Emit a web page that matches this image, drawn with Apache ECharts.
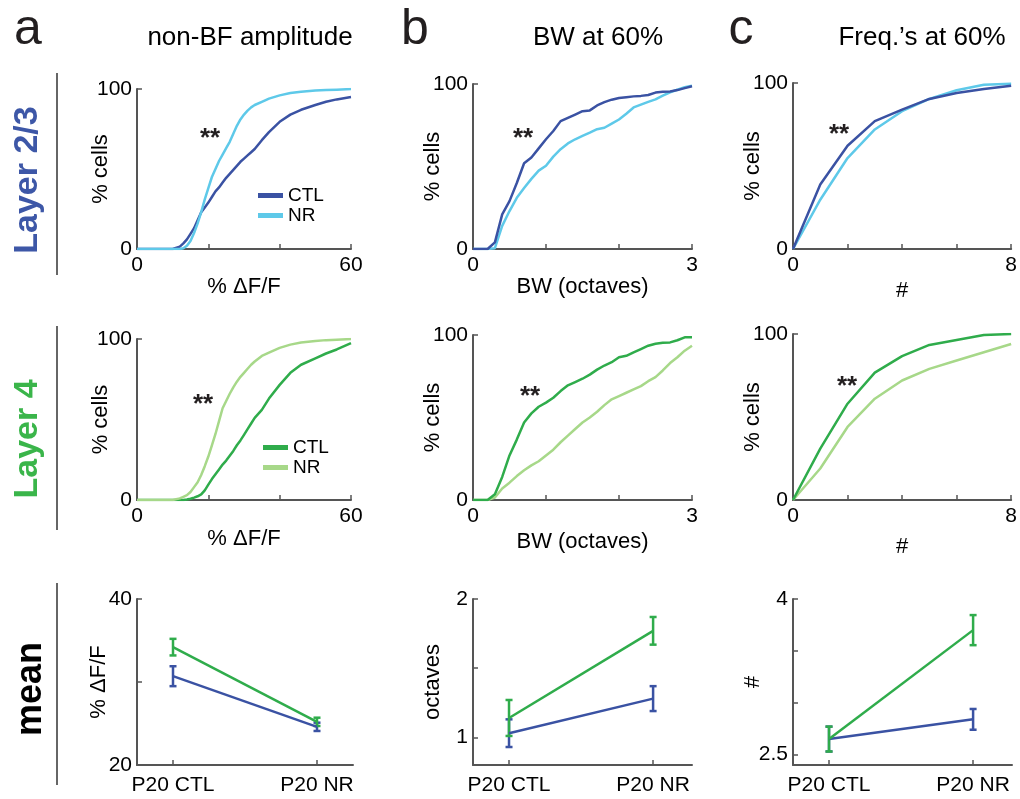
<!DOCTYPE html>
<html>
<head>
<meta charset="utf-8">
<script src="https://cdn.jsdelivr.net/npm/echarts@6/dist/echarts.min.js"></script>
<style>
html, body { margin: 0; padding: 0; background: #fff; }
#main { width: 1020px; height: 799px; }
</style>
</head>
<body>
<div id="main"></div>
<script>
// ---- data ----
// column a: non-BF amplitude (% dF/F) cumulative
var ampX      = [0, 10, 12, 13, 14, 15, 16, 17, 18, 19, 20, 21, 22, 23, 24, 25, 26, 27, 28, 29, 30, 31, 32, 33, 35, 37, 40, 43, 46, 50, 53, 56, 60];
var ampL23Ctl = [0, 0, 1.5, 3.5, 6, 9.5, 13, 18, 23, 26, 29, 32.5, 36, 38.5, 41.5, 44.5, 47, 49.5, 52, 54.5, 56.5, 58.5, 60.5, 62.5, 68, 73, 79.5, 84, 87, 90, 92, 93.5, 95];
var ampL23Nr  = [0, 0, 0, 0.5, 2, 5, 10, 16, 23, 31, 38, 45, 50, 55, 59, 63, 67, 72, 77, 81, 84, 86.5, 88.5, 90, 92, 94, 96, 97.5, 98.3, 99, 99.3, 99.6, 100];
var ampL4Ctl  = [0, 0, 0, 0, 0.3, 0.8, 1.5, 2.3, 3.5, 6, 9.5, 13, 16, 19, 22, 24.5, 27.5, 30.5, 34, 37, 40.5, 44, 47.5, 51, 56, 63, 71.5, 79, 84, 88, 91, 93.5, 97.5];
var ampL4Nr   = [0, 0, 1, 2, 3, 5, 8, 11, 15.5, 21, 27, 34, 41, 49, 57, 61.5, 66, 70, 73.5, 76.5, 79, 81.5, 84, 86, 89.5, 91.5, 94.5, 96.5, 97.8, 98.8, 99.3, 99.6, 100];

// column b: bandwidth at 60% (octaves) cumulative
var bwX      = [0, 0.2, 0.3, 0.4, 0.5, 0.6, 0.7, 0.8, 0.9, 1.0, 1.1, 1.2, 1.3, 1.4, 1.5, 1.6, 1.7, 1.8, 1.9, 2.0, 2.1, 2.2, 2.3, 2.4, 2.5, 2.6, 2.7, 2.8, 2.9, 3.0];
var bwL23Ctl = [0, 0, 4, 21, 29, 40, 52, 55.5, 61, 66.5, 71.5, 77.5, 79.5, 81.5, 83.5, 84, 87, 89, 90.5, 91.5, 92, 92.5, 92.8, 93.3, 94.8, 95.3, 95.5, 96.3, 97.5, 98.6];
var bwL23Nr  = [0, 0, 0.5, 14, 23, 31, 37, 42.5, 47.5, 50.5, 56, 60.5, 64, 66.5, 68.5, 70.5, 72.6, 73.5, 76, 78.5, 82, 85.8, 87.5, 89.2, 90.7, 93, 95, 96.5, 98, 99];
var bwL4Ctl  = [0, 0, 3.5, 14, 27, 36.6, 47, 52.5, 56.5, 59, 62, 66, 69.5, 71.5, 73.5, 76, 79, 81.5, 83.5, 86.5, 87.4, 89.5, 91.5, 93.5, 94.7, 95.3, 95.5, 96.8, 98.6, 98.6];
var bwL4Nr   = [0, 0, 1.5, 7, 10.5, 14.5, 18, 21, 23.5, 27, 30.5, 35, 39, 43, 47, 50, 53.5, 57.5, 61, 63, 65, 67, 69, 72, 74.5, 78.5, 83, 86.5, 90.5, 93.5];

// column c: number of frequencies at 60% cumulative
var freqX      = [0, 1, 2, 3, 4, 5, 6, 7, 8];
var freqL23Ctl = [0, 38.8, 62.2, 77, 84, 90.4, 94, 96.4, 98.4];
var freqL23Nr  = [0, 29.7, 54.8, 72, 83, 90.4, 95.6, 99, 99.6];
var freqL4Ctl  = [0, 31, 58, 76.7, 86.7, 93.4, 96.4, 99.4, 100];
var freqL4Nr   = [0, 19, 44, 61, 72, 79, 84, 89, 94];

// bottom row: means +/- error
var groups      = ['P20 CTL', 'P20 NR'];
var ampMeanL23  = [30.7, 24.6];
var ampErrL23   = [1.2, 0.5];
var ampMeanL4   = [34.2, 25.2];
var ampErrL4    = [1.0, 0.5];
var bwMeanL23   = [1.03, 1.28];
var bwErrL23    = [0.1, 0.09];
var bwMeanL4    = [1.14, 1.77];
var bwErrL4     = [0.13, 0.1];
var freqMeanL23 = [2.65, 2.84];
var freqErrL23  = [0.12, 0.1];
var freqMeanL4  = [2.65, 3.70];
var freqErrL4   = [0.12, 0.145];

// ---- style ----
var FONT = "'Liberation Sans', Helvetica, Arial, sans-serif";
var AXIS_COLOR = '#555555';
var C_BLUE = '#3a52a3';
var C_CYAN = '#5ec9e9';
var C_GREEN = '#2fac4b';
var C_LGREEN = '#a7d889';

function pairs(xs, ys) {
	return xs.map(function(x, i){ return [x, ys[i]]; });
}
function errRows(means, errs) {
	return means.map(function(m, i){ return [i, m - errs[i], m + errs[i]]; });
}

function axis(gi, min, max, ticks, labels, opts) {
	opts = opts || {};
	return {
		type: 'value',
		gridIndex: gi,
		min: min,
		max: max,
		name: opts.name || '',
		nameLocation: 'middle',
		nameGap: opts.nameGap || 25,
		nameMoveOverlap: false,
		nameTextStyle: { fontFamily: FONT, fontSize: 22, color: '#000' },
		axisLine: { show: true, onZero: false, lineStyle: { color: AXIS_COLOR, width: 2 } },
		axisTick: { show: true, inside: true, length: 5, customValues: ticks, lineStyle: { color: AXIS_COLOR, width: 1.5 } },
		axisLabel: {
			customValues: labels,
			fontFamily: FONT, fontSize: 21, color: '#000',
			margin: opts.margin || 5,
			formatter: opts.formatter
		},
		splitLine: { show: false }
	};
}

function cdf(name, gi, xs, ys, color) {
	return {
		name: name, type: 'line', xAxisIndex: gi, yAxisIndex: gi,
		data: pairs(xs, ys), showSymbol: false, symbol: 'none',
		lineStyle: { color: color, width: 2.5 }, itemStyle: { color: color }
	};
}

function renderErrorBar(params, api) {
	var hi = api.coord([api.value(0), api.value(2)]);
	var lo = api.coord([api.value(0), api.value(1)]);
	var cap = 3.5;
	var color = api.visual('color');
	function seg(x1, y1, x2, y2) {
		return { type: 'line', shape: { x1: x1, y1: y1, x2: x2, y2: y2 }, style: { stroke: color, lineWidth: 2.5 } };
	}
	return {
		type: 'group',
		children: [
			seg(hi[0], hi[1], lo[0], lo[1]),
			seg(hi[0] - cap, hi[1], hi[0] + cap, hi[1]),
			seg(lo[0] - cap, lo[1], lo[0] + cap, lo[1])
		]
	};
}

function meanSeries(name, gi, means, errs, color) {
	return [{
		name: name, type: 'line', xAxisIndex: gi, yAxisIndex: gi,
		data: means.map(function(m, i){ return [i, m]; }),
		showSymbol: false, symbol: 'none',
		lineStyle: { color: color, width: 2.5 }, itemStyle: { color: color }
	}, {
		name: name, type: 'custom', xAxisIndex: gi, yAxisIndex: gi,
		renderItem: renderErrorBar,
		encode: { x: 0, y: [1, 2] },
		data: errRows(means, errs),
		itemStyle: { color: color }, z: 3
	}];
}

var groupLabel = function(v){ return groups[Math.round(v)]; };

var grids = [
	{ left: 137, top: 89,  width: 214, height: 160 },
	{ left: 473, top: 84,  width: 219, height: 165 },
	{ left: 793, top: 83,  width: 219, height: 166 },
	{ left: 137, top: 339, width: 214, height: 161 },
	{ left: 473, top: 335, width: 219, height: 165 },
	{ left: 793, top: 334, width: 219, height: 166 },
	{ left: 137, top: 599, width: 216, height: 166 },
	{ left: 473, top: 599, width: 219, height: 166 },
	{ left: 793, top: 599, width: 219, height: 166 }
];

var xAxes = [
	axis(0, 0, 60, [0, 20, 40, 60], [0, 60], { name: '% \u0394F/F', nameGap: 27, margin: 6 }),
	axis(1, 0, 3, [0, 1, 2, 3], [0, 3], { name: 'BW (octaves)', nameGap: 27, margin: 6 }),
	axis(2, 0, 8, [0, 2, 4, 6, 8], [0, 8], { name: '#', nameGap: 31, margin: 6 }),
	axis(3, 0, 60, [0, 20, 40, 60], [0, 60], { name: '% \u0394F/F', nameGap: 28, margin: 6 }),
	axis(4, 0, 3, [0, 1, 2, 3], [0, 3], { name: 'BW (octaves)', nameGap: 31, margin: 6 }),
	axis(5, 0, 8, [0, 2, 4, 6, 8], [0, 8], { name: '#', nameGap: 36, margin: 6 }),
	axis(6, -0.25, 1.25, [0, 1], [0, 1], { margin: 10, formatter: groupLabel }),
	axis(7, -0.25, 1.27, [0, 1], [0, 1], { margin: 10, formatter: groupLabel }),
	axis(8, -0.25, 1.27, [0, 1], [0, 1], { margin: 10, formatter: groupLabel })
];

var yAxes = [
	axis(0, 0, 100, [0, 100], [0, 100], { name: '% cells', nameGap: 25 }),
	axis(1, 0, 100, [0, 100], [0, 100], { name: '% cells', nameGap: 29 }),
	axis(2, 0, 100, [0, 100], [0, 100], { name: '% cells', nameGap: 29 }),
	axis(3, 0, 100, [0, 100], [0, 100], { name: '% cells', nameGap: 25 }),
	axis(4, 0, 100, [0, 100], [0, 100], { name: '% cells', nameGap: 29 }),
	axis(5, 0, 100, [0, 100], [0, 100], { name: '% cells', nameGap: 29 }),
	axis(6, 20, 40, [20, 30, 40], [20, 40], { name: '% \u0394F/F', nameGap: 27 }),
	axis(7, 0.8, 2, [1, 1.5, 2], [1, 2], { name: 'octaves', nameGap: 29 }),
	axis(8, 2.4, 4, [2.5, 3, 3.5, 4], [2.5, 4], { name: '#', nameGap: 29 })
];

var series = [
	cdf('L23 CTL', 0, ampX, ampL23Ctl, C_BLUE),
	cdf('L23 NR', 0, ampX, ampL23Nr, C_CYAN),
	cdf('L23 CTL', 1, bwX, bwL23Nr, C_CYAN),
	cdf('L23 CTL', 1, bwX, bwL23Ctl, C_BLUE),
	cdf('L23 NR', 2, freqX, freqL23Nr, C_CYAN),
	cdf('L23 CTL', 2, freqX, freqL23Ctl, C_BLUE),
	cdf('L4 CTL', 3, ampX, ampL4Ctl, C_GREEN),
	cdf('L4 NR', 3, ampX, ampL4Nr, C_LGREEN),
	cdf('L4 NR', 4, bwX, bwL4Nr, C_LGREEN),
	cdf('L4 CTL', 4, bwX, bwL4Ctl, C_GREEN),
	cdf('L4 NR', 5, freqX, freqL4Nr, C_LGREEN),
	cdf('L4 CTL', 5, freqX, freqL4Ctl, C_GREEN)
]
	.concat(meanSeries('L23 mean', 6, ampMeanL23, ampErrL23, C_BLUE))
	.concat(meanSeries('L4 mean', 6, ampMeanL4, ampErrL4, C_GREEN))
	.concat(meanSeries('L23 mean', 7, bwMeanL23, bwErrL23, C_BLUE))
	.concat(meanSeries('L4 mean', 7, bwMeanL4, bwErrL4, C_GREEN))
	.concat(meanSeries('L23 mean', 8, freqMeanL23, freqErrL23, C_BLUE))
	.concat(meanSeries('L4 mean', 8, freqMeanL4, freqErrL4, C_GREEN));

function legendFor(names, left, top) {
	return {
		data: names, left: left, top: top, orient: 'vertical',
		icon: 'rect', itemWidth: 25, itemHeight: 5, itemGap: 1, padding: 0,
		selectedMode: false,
		formatter: function(n){ return n.split(' ')[1]; },
		textStyle: { fontFamily: FONT, fontSize: 19, color: '#000' }
	};
}

function txt(text, x, y, size, color, bold, rotate) {
	return {
		type: 'text', x: x, y: y, rotation: rotate ? Math.PI / 2 : 0,
		style: {
			text: text, fontFamily: FONT, fontSize: size,
			fontWeight: bold ? 'bold' : 'normal', fill: color,
			align: 'center', verticalAlign: 'middle'
		}
	};
}
function vline(x, y1, y2) {
	return { type: 'line', shape: { x1: x, y1: y1, x2: x, y2: y2 }, style: { stroke: '#333', lineWidth: 1.5 } };
}

var titleStyle = { fontFamily: FONT, fontSize: 26, fontWeight: 'normal', color: '#000' };

var chart = echarts.init(document.getElementById('main'));
chart.setOption({
	animation: false,
	backgroundColor: '#fff',
	title: [
		{ text: 'non-BF amplitude', left: 245, top: 20, textAlign: 'center', textStyle: titleStyle },
		{ text: 'BW at 60%', left: 593, top: 20, textAlign: 'center', textStyle: titleStyle },
		{ text: 'Freq.\u2019s at 60%', left: 917, top: 20, textAlign: 'center', textStyle: titleStyle }
	],
	legend: [
		legendFor(['L23 CTL', 'L23 NR'], 258, 186),
		legendFor(['L4 CTL', 'L4 NR'], 263, 438)
	],
	grid: grids,
	xAxis: xAxes,
	yAxis: yAxes,
	series: series,
	graphic: [
		txt('a', 28, 30, 50, '#231f20', false, false),
		txt('b', 415, 30, 50, '#231f20', false, false),
		txt('c', 741, 30, 50, '#231f20', false, false),
		txt('Layer 2/3', 28, 180, 34, '#3d57a7', true, true),
		txt('Layer 4', 28, 439, 34, '#3ab54a', true, true),
		txt('mean', 31, 689, 36, '#000', true, true),
		vline(57, 73, 275),
		vline(57, 326, 530),
		vline(57, 583, 785),
		txt('**', 210, 139, 26, '#231f20', true, false),
		txt('**', 523, 139, 26, '#231f20', true, false),
		txt('**', 839, 135, 26, '#231f20', true, false),
		txt('**', 203, 405, 26, '#231f20', true, false),
		txt('**', 530, 397, 26, '#231f20', true, false),
		txt('**', 847, 387, 26, '#231f20', true, false)
	]
});
</script>
</body>
</html>
